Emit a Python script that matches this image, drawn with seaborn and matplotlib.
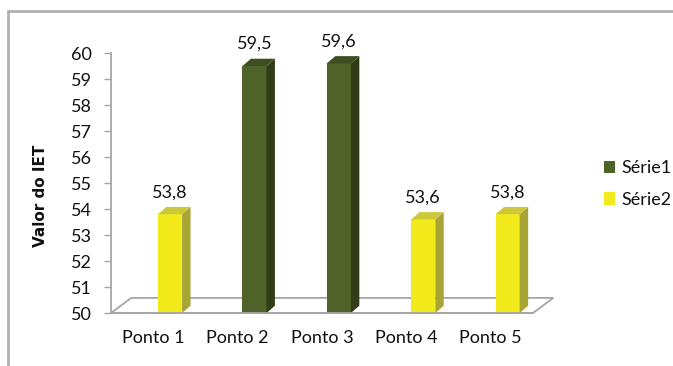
import matplotlib
matplotlib.use("Agg")
import matplotlib.pyplot as plt
from matplotlib.patches import Polygon, Patch
from matplotlib.lines import Line2D
import seaborn as sns
import pandas as pd

categories = ["Ponto 1", "Ponto 2", "Ponto 3", "Ponto 4", "Ponto 5"]
series = ["Série2", "Série1", "Série1", "Série2", "Série2"]
values = [53.8, 59.5, 59.6, 53.6, 53.8]
legend_order = ["Série1", "Série2"]
y_ticks = list(range(50, 61))

front = {"Série1": "#4F6228", "Série2": "#F2EA1B"}
side = {"Série1": "#313D18", "Série2": "#A9A534"}
top = {"Série1": "#3E4E1F", "Série2": "#CCC83A"}

sns.set_theme(style="white")
plt.rcParams["font.family"] = ["Lato", "DejaVu Sans"]
FS = 13
TXT = "#111111"

df = pd.DataFrame({"cat": categories, "serie": series, "val": values})

fig = plt.figure(figsize=(6.73, 3.66), dpi=100)
ax = fig.add_axes([111/673, 1-313/366, (533-111)/673, (313-53)/366])

sns.barplot(data=df, x="cat", y="val", hue="serie", hue_order=legend_order,
            palette=front, dodge=False, width=0.285, ax=ax, legend=False,
            saturation=1, bottom=0)

ax.set_ylim(50, 60)
ax.set_xlim(-0.5, 4.5)

# shift bars into Excel-like 3D position and add 3D faces
dx, dy = 0.1, 0.28
shift = 0.2
for cont, name in zip(ax.containers, legend_order):
    for p in cont:
        p.set_x(p.get_x() + shift)
        p.set_edgecolor("none")
    labels = [f"{p.get_height():.1f}".replace(".", ",") for p in cont]
    ax.bar_label(cont, labels=labels, padding=10, fontsize=FS, color=TXT)
    for p in cont:
        x0 = p.get_x(); x1 = x0 + p.get_width(); h = p.get_y() + p.get_height()
        ax.add_patch(Polygon([(x1, 50), (x1 + dx, 50 + dy), (x1 + dx, h + dy), (x1, h)],
                             closed=True, facecolor=side[name], edgecolor="none",
                             clip_on=False, zorder=p.get_zorder()))
        ax.add_patch(Polygon([(x0, h), (x0 + dx, h + dy), (x1 + dx, h + dy), (x1, h)],
                             closed=True, facecolor=top[name], edgecolor="none",
                             clip_on=False, zorder=p.get_zorder()))

# floor
fx, fy = 0.24, 0.58
floor = Polygon([(-0.5, 50), (-0.5 + fx, 50 + fy), (4.5 + fx, 50 + fy), (4.5, 50)],
                closed=True, facecolor="white", edgecolor="#A6A6A6", lw=1.3,
                clip_on=False, zorder=0.5)
ax.add_patch(floor)

ax.set_yticks(y_ticks)
ax.set_yticklabels([str(t) for t in y_ticks], fontsize=FS, color=TXT)
ax.set_xticks(range(len(categories)))
ax.set_xticklabels(categories, fontsize=FS, color=TXT)
ax.set_xticks([i - 0.5 for i in range(len(categories) + 1)], minor=True)
ax.tick_params(axis="x", which="major", length=0, pad=12)
ax.tick_params(axis="x", which="minor", length=5, width=1, color="#A6A6A6", direction="out")
ax.tick_params(axis="y", length=5, width=1, color="#A6A6A6", direction="out", pad=9, left=True)
ax.set_xlabel("")
ax.set_ylabel("Valor do IET", fontsize=11, fontweight="bold",
              family=["DejaVu Sans"], color=TXT)
ax.yaxis.set_label_coords(-0.15, 0.45)

for s in ["top", "right"]:
    ax.spines[s].set_visible(False)
for s in ["left", "bottom"]:
    ax.spines[s].set_color("#A6A6A6")
    ax.spines[s].set_linewidth(1.3)
ax.patch.set_alpha(0)

handles = [Patch(facecolor=front[n], edgecolor="none") for n in legend_order]
fig.legend(handles, legend_order, loc="center left", bbox_to_anchor=(588/673, 1-184/366),
           frameon=False, fontsize=FS, handlelength=0.6, handleheight=0.7,
           handletextpad=0.35, labelspacing=0.85, labelcolor=TXT)

# outer chart frame (partially visible)
fig.add_artist(Line2D([8/673, 8/673], [0, 1-11/366], transform=fig.transFigure,
                      color="#B0B0B0", lw=2))
fig.add_artist(Line2D([8/673, 1], [1-11/366, 1-11/366], transform=fig.transFigure,
                      color="#B0B0B0", lw=2))

fig.savefig("out.png", dpi=100)
